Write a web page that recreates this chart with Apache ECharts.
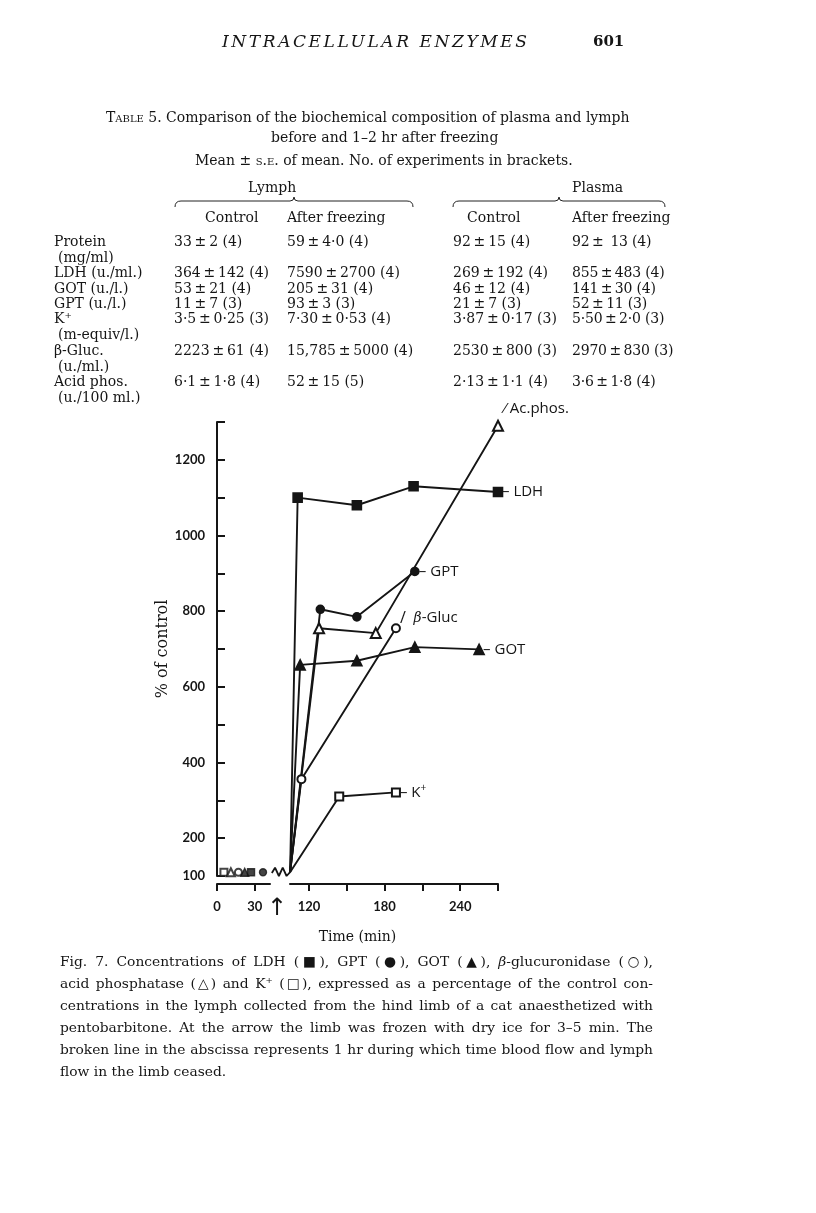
<!DOCTYPE html>
<html><head><meta charset="utf-8">
<script src="https://cdn.jsdelivr.net/npm/echarts@6/dist/echarts.min.js"></script>
<style>
html,body{margin:0;padding:0;background:#fff;}
body{width:816px;height:1213px;position:relative;overflow:hidden;font-family:'DejaVu Serif',serif;color:#151515;}
.t{position:absolute;white-space:nowrap;font-size:14px;line-height:16px;transform:translateY(-50%);}
.sc{font-variant:small-caps;}
#chart{position:absolute;left:0;top:0;width:816px;height:1213px;}
.cap{position:absolute;left:60px;width:593px;font-size:14px;line-height:16px;text-align:justify;text-align-last:justify;white-space:nowrap;transform:translateY(-50%);}
.cap.last{text-align-last:left;}
.meas{position:absolute;visibility:hidden;white-space:nowrap;font-size:15px;}
</style></head>
<body>
<div id="chart"></div>
<svg id="braces" width="816" height="1213" style="position:absolute;left:0;top:0" xmlns="http://www.w3.org/2000/svg"></svg>
<div id="txt"></div>
<script>
// ---------- data ----------
const rowNames  = ['Protein','LDH (u./ml.)','GOT (u./l.)','GPT (u./l.)','K\u207A','\u03B2-Gluc.','Acid phos.'];
const rowUnits  = ['(mg/ml)','','','','(m-equiv/l.)','(u./ml.)','(u./100 ml.)'];
const lymphControl = ['33\u2009\u00B1\u20092 (4)','364\u2009\u00B1\u2009142 (4)','53\u2009\u00B1\u200921 (4)','11\u2009\u00B1\u20097 (3)','3\u00B75\u2009\u00B1\u20090\u00B725 (3)','2223\u2009\u00B1\u200961 (4)','6\u00B71\u2009\u00B1\u20091\u00B78 (4)'];
const lymphAfter   = ['59\u2009\u00B1\u20094\u00B70 (4)','7590\u2009\u00B1\u20092700 (4)','205\u2009\u00B1\u200931 (4)','93\u2009\u00B1\u20093 (3)','7\u00B730\u2009\u00B1\u20090\u00B753 (4)','15,785\u2009\u00B1\u20095000 (4)','52\u2009\u00B1\u200915 (5)'];
const plasmaControl= ['92\u2009\u00B1\u200915 (4)','269\u2009\u00B1\u2009192 (4)','46\u2009\u00B1\u200912 (4)','21\u2009\u00B1\u20097 (3)','3\u00B787\u2009\u00B1\u20090\u00B717 (3)','2530\u2009\u00B1\u2009800 (3)','2\u00B713\u2009\u00B1\u20091\u00B71 (4)'];
const plasmaAfter  = ['92\u2009\u00B1\u2009 13 (4)','855\u2009\u00B1\u2009483 (4)','141\u2009\u00B1\u200930 (4)','52\u2009\u00B1\u200911 (3)','5\u00B750\u2009\u00B1\u20092\u00B70 (3)','2970\u2009\u00B1\u2009830 (3)','3\u00B76\u2009\u00B1\u20091\u00B78 (4)'];

// figure data: time (min), % of control
const ldhTime  = [105, 111, 158, 203, 270];
const ldhVal   = [110, 1100, 1080, 1130, 1115];
const gptTime  = [105, 129, 158, 204];
const gptVal   = [110, 805, 785, 905];
const gotTime  = [105, 113, 158, 204, 255];
const gotVal   = [110, 658, 669, 705, 699];
const glucTime = [105, 114, 189];
const glucVal  = [110, 356, 755];
const acpTime  = [105, 128, 173, 270];
const acpVal   = [110, 755, 742, 1290];
const kTime    = [105, 144, 189];
const kVal     = [110, 310, 321];
// control samples before freezing
const ctlTime  = {k: 5.5, acp: 11, gluc: 17, got: 22, ldh: 27, gpt: 36.5};
const ctlVal   = 110;
// broken-line mark on the abscissa (during the 1 hr stop)
const zigTime  = [48, 58, 70, 82, 94, 105];
const zigVal   = [108, 122, 100, 122, 100, 110];
const xTicks   = [0, 30, 120, 150, 180, 210, 240, 270];
const xLabels  = [0, 30, 120, 180, 240];
const freezeTime = 64;   // arrow: limb frozen

// ---------- text ----------
const txt = document.getElementById('txt');
function put(html, x, y, style){
  const d = document.createElement('div'); d.className='t'; d.innerHTML = html;
  d.style.left = x+'px'; d.style.top = y+'px';
  if (style) Object.assign(d.style, style);
  txt.appendChild(d); return d;
}
put('INTRACELLULAR ENZYMES', 222, 41, {fontStyle:'italic', fontSize:'17px', letterSpacing:'2.6px'});
put('601', 593, 41, {fontSize:'15px', fontWeight:'bold'});
put('<span class="sc">Table</span> 5. Comparison of the biochemical composition of plasma and lymph', 106, 117);
put('before and 1\u20132 hr after freezing', 271, 137);
put('Mean \u00B1 <span class="sc">s.e.</span> of mean. No. of experiments in brackets.', 195, 160);
put('Lymph', 248, 187); put('Plasma', 572, 187);
put('Control', 205, 217); put('After freezing', 287, 217);
put('Control', 467, 217); put('After freezing', 572, 217);
const rowY = [241, 272, 288, 303, 318, 350, 381];
const colX = [174, 287, 453, 572];
rowNames.forEach((n,i)=>{
  put(n, 54, rowY[i]);
  if (rowUnits[i]) put(rowUnits[i], 58, rowY[i]+16);
  [lymphControl, lymphAfter, plasmaControl, plasmaAfter].forEach((col,j)=>put(col[i], colX[j], rowY[i], j===3?{letterSpacing:'-0.2px'}:null));
});
const capLines = [
 'Fig. 7. Concentrations of LDH (\u25A0), GPT (\u25CF), GOT (\u25B2), <i>\u03B2</i>-glucuronidase (\u25CB),',
 'acid phosphatase (\u25B3) and K\u207A (\u25A1), expressed as a percentage of the control con-',
 'centrations in the lymph collected from the hind limb of a cat anaesthetized with',
 'pentobarbitone. At the arrow the limb was frozen with dry ice for 3\u20135 min. The',
 'broken line in the abscissa represents 1 hr during which time blood flow and lymph',
 'flow in the limb ceased.'
];
// pick a caption font size so that the fullest line still fits the measure
let capFs = 15;
capLines.slice(0,5).forEach(l=>{
  const m = document.createElement('span'); m.className='meas'; m.innerHTML = l; document.body.appendChild(m);
  capFs = Math.min(capFs, 15*588/m.getBoundingClientRect().width);
  m.remove();
});
capLines.forEach((l,i)=>{
  const d=document.createElement('div'); d.className='cap'+(i===capLines.length-1?' last':'');
  d.innerHTML=l; d.style.top=(961+i*22)+'px'; d.style.fontSize=capFs+'px'; txt.appendChild(d);
});
// braces
function brace(x1,x2,xm,y){
  return `<path d="M${x1} ${y+6} Q${x1} ${y} ${x1+6} ${y} L${xm-4} ${y} Q${xm} ${y} ${xm} ${y-4} Q${xm} ${y} ${xm+4} ${y} L${x2-6} ${y} Q${x2} ${y} ${x2} ${y+6}" fill="none" stroke="#222" stroke-width="1"/>`;
}
document.getElementById('braces').innerHTML = brace(175,413,294,201)+brace(453,665,559,201);

// ---------- chart ----------
const chart = echarts.init(document.getElementById('chart'), null, {renderer:'canvas'});
// first point of each post-freeze series is the common start at the end of the break: no marker there
const pairs = (t,v)=>t.map((x,i)=> i===0 ? {value:[x,v[i]], symbol:'none'} : [x,v[i]]);
const lblFont = {fontFamily:'Open Sans', fontSize:15, color:'#151515'};
function lineSeries(name, t, v, symbol, size, label){
  return {
    name, type:'line', data:pairs(t,v), symbol, symbolSize:size,
    showAllSymbol:true, z:3,
    lineStyle:{color:'#151515', width:1.9},
    itemStyle:{color:'#151515', borderColor:'#151515', borderWidth:1.6},
    endLabel:Object.assign({show:true}, lblFont, label),
    emphasis:{disabled:true}, animation:false
  };
}
function ctl(symbol, size, t){
  return {type:'scatter', data:[[t, ctlVal]], symbol, symbolSize:size, z:4,
    itemStyle:{color:'#151515', borderColor:'#151515', borderWidth:1.4}, animation:false};
}
const option = {
  animation:false,
  grid:{left:217, right:318, top:422, bottom:337, containLabel:false},
  xAxis:{
    type:'value', min:0, max:270, interval:30,
    breaks:[{start:42, end:105, gap:16}],
    breakArea:{show:false},
    offset:8,
    name:'Time (min)', nameLocation:'middle', nameGap:46,
    nameTextStyle:{fontFamily:'DejaVu Serif', fontSize:14, color:'#151515'},
    axisLine:{lineStyle:{color:'#151515', width:2}},
    axisTick:{inside:false, length:7, lineStyle:{color:'#151515', width:2}, customValues:xTicks},
    axisLabel:{customValues:xLabels, fontFamily:'Lato', fontWeight:'bold', fontSize:13, color:'#151515', margin:16},
    splitLine:{show:false}
  },
  yAxis:{
    type:'value', min:100, max:1300, interval:100,
    name:'% of control', nameLocation:'middle', nameGap:46, nameRotate:90,
    nameTextStyle:{fontFamily:'DejaVu Serif', fontSize:16, color:'#151515'},
    axisLine:{lineStyle:{color:'#151515', width:2}},
    axisTick:{inside:true, length:8, lineStyle:{color:'#151515', width:2}},
    axisLabel:{fontFamily:'Lato', fontWeight:'bold', fontSize:13, color:'#151515', margin:12,
      formatter:v=>(v===100 || (v%200===0 && v<=1200)) ? String(v) : ''},
    splitLine:{show:false}
  },
  series:[
    {type:'line', data:pairs(zigTime, zigVal), symbol:'none', lineStyle:{color:'#151515', width:1.8}, z:2, animation:false},
    lineSeries('K+', kTime, kVal, 'emptyRect', 8, {formatter:'\u2013 K{s|+}', distance:4,
      rich:{s:{fontSize:10, fontFamily:'Open Sans', verticalAlign:'top', padding:[0,0,8,0]}}}),
    lineSeries('beta-Gluc', glucTime, glucVal, 'emptyCircle', 8, {formatter:'{l|/}  {t|\u03B2}-Gluc', distance:4, offset:[0,-10],
      rich:{l:{fontSize:16, fontFamily:'Open Sans'}, t:{fontStyle:'italic', fontFamily:'DejaVu Serif', fontSize:14}}}),
    lineSeries('GOT', gotTime, gotVal, 'triangle', 10, {formatter:'\u2013 GOT', distance:4}),
    lineSeries('Ac.phos.', acpTime, acpVal, 'emptyTriangle', 10, {formatter:'\u2044 Ac.phos.', distance:6, offset:[0,-17]}),
    lineSeries('GPT', gptTime, gptVal, 'circle', 8, {formatter:'\u2013 GPT', distance:4}),
    lineSeries('LDH', ldhTime, ldhVal, 'rect', 9, {formatter:'\u2013 LDH', distance:4}),
    ctl('emptyRect', 7, ctlTime.k), ctl('emptyTriangle', 8, ctlTime.acp), ctl('emptyCircle', 7, ctlTime.gluc),
    ctl('triangle', 8, ctlTime.got), ctl('rect', 7, ctlTime.ldh), ctl('circle', 7, ctlTime.gpt)
  ]
};
chart.setOption(option);
const ax = chart.convertToPixel({xAxisIndex:0}, freezeTime);
chart.setOption({graphic:[{type:'text', x:ax, y:909, style:{text:'\u2191', font:'24px DejaVu Sans', fill:'#151515', align:'center', verticalAlign:'middle'}}]});
</script>
</body></html>
